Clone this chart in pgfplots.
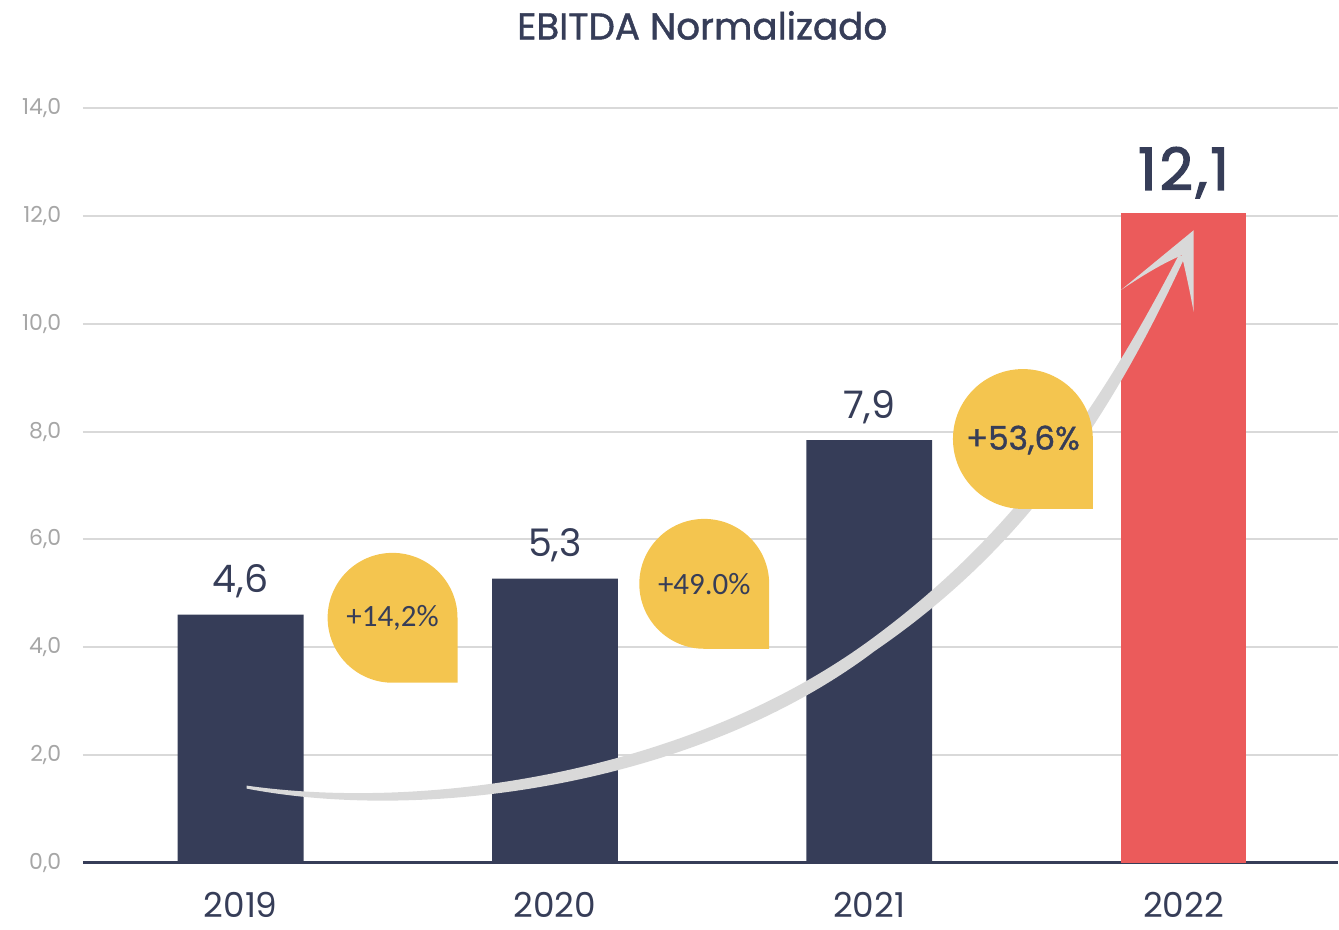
\documentclass[border=0pt]{standalone}
\usepackage{fontspec}
\setmainfont{Poppins}
\newfontfamily\carlito{Carlito}
\newfontfamily\popmed[FakeBold=1.2]{Poppins}
\newfontfamily\popsemi[FakeBold=2.2,LetterSpace=5]{Poppins}
\usepackage{pgfplots}
\pgfplotsset{compat=1.18}
\definecolor{navy}{HTML}{363D58}
\definecolor{redbar}{HTML}{EB5B5B}
\definecolor{bubble}{HTML}{F4C54F}
\definecolor{gridgray}{HTML}{D9D9D9}
\definecolor{tickgray}{HTML}{A6A6A6}
\definecolor{swoosh}{HTML}{D9D9D9}

\begin{document}
\begin{tikzpicture}
% image-pixel frame: (0,0) top left, 1px = 0.3pt, axis box from (83,108) to (1339,863)
\begin{scope}[x=0.3pt,y=-0.3pt,shift={(-24.9pt,258.9pt)}]
\path[use as bounding box] (0,0) rectangle (1339,922);
\end{scope}

\begin{axis}[
  scale only axis,
  width=376.8pt,height=226.5pt,
  xmin=-0.502,xmax=3.49,ymin=0,ymax=14,
  axis x line=bottom, axis y line=left,
  x axis line style={navy,line width=0.9pt,-},
  y axis line style={draw=none},
  xtick={0,1,2,3},
  xticklabels={2019,2020,2021,2022},
  ytick={0,2,...,14},
  major tick length=0pt,
  ymajorgrids=true,
  grid style={gridgray,line width=0.6pt},
  xticklabel style={font=\fontsize{10.3}{12}\selectfont,text=navy,yshift=-5.5pt},
  yticklabel style={font=\fontsize{6.6}{8}\selectfont,text=tickgray,xshift=-3pt},
  /pgf/number format/.cd,use comma,fixed,fixed zerofill,precision=1,assume math mode=true,
  /pgfplots/.cd,
  ybar, bar width=37.8pt, bar shift=0pt,
  clip=false,
]
\addplot[fill=navy,draw=none,
  nodes near coords,point meta=explicit symbolic,
  every node near coord/.append style={font=\fontsize{11.4}{13}\selectfont,text=navy,yshift=1.5pt}]
  coordinates {(0,4.6)[4,6] (1,5.27)[5,3] (2,7.84)[7,9]};
\addplot[fill=redbar,draw=none,
  nodes near coords,point meta=explicit symbolic,
  every node near coord/.append style={font=\popsemi\fontsize{17.5}{19}\selectfont,text=navy,yshift=1pt}]
  coordinates {(3,12.05)[12,1]};
\end{axis}

\begin{scope}[x=0.3pt,y=-0.3pt,shift={(-24.9pt,258.9pt)}]
% title
\node[font=\popmed\fontsize{11.2}{14}\selectfont,text=navy] at (703,25) {EBITDA Normalizado};
% growth swoosh
\fill[swoosh] (247,786) .. controls (430,812) and (690,772) .. (870,641)
  .. controls (1000,546) and (1090,430) .. (1180,255)
  -- (1186,257) .. controls (1101,442) and (1010,559) .. (876,651)
  .. controls (700,784) and (430,824) .. (247,789) -- cycle;
\fill[swoosh] (1122,290) -- (1195,230) -- (1195,312)
  .. controls (1190,285) and (1186,268) .. (1183,255)
  .. controls (1160,265) and (1140,278) .. (1122,290) -- cycle;
% growth bubbles
\fill[bubble] (393,683) -- (458,683) -- (458,618) arc[start angle=0,end angle=-270,radius=65] -- cycle;
\node[font=\carlito\fontsize{9.3}{11}\selectfont,text=navy] at (393,618) {+14,2\%};
\fill[bubble] (705,649) -- (770,649) -- (770,584) arc[start angle=0,end angle=-270,radius=65] -- cycle;
\node[font=\carlito\fontsize{9.3}{11}\selectfont,text=navy] at (705,584) {+49.0\%};
\fill[bubble] (1024,509) -- (1094,509) -- (1094,439) arc[start angle=0,end angle=-270,radius=70] -- cycle;
\node[font=\popmed\fontsize{9.8}{11}\selectfont,text=navy] at (1024,440) {+53,6\%};
\end{scope}
\end{tikzpicture}
\end{document}
